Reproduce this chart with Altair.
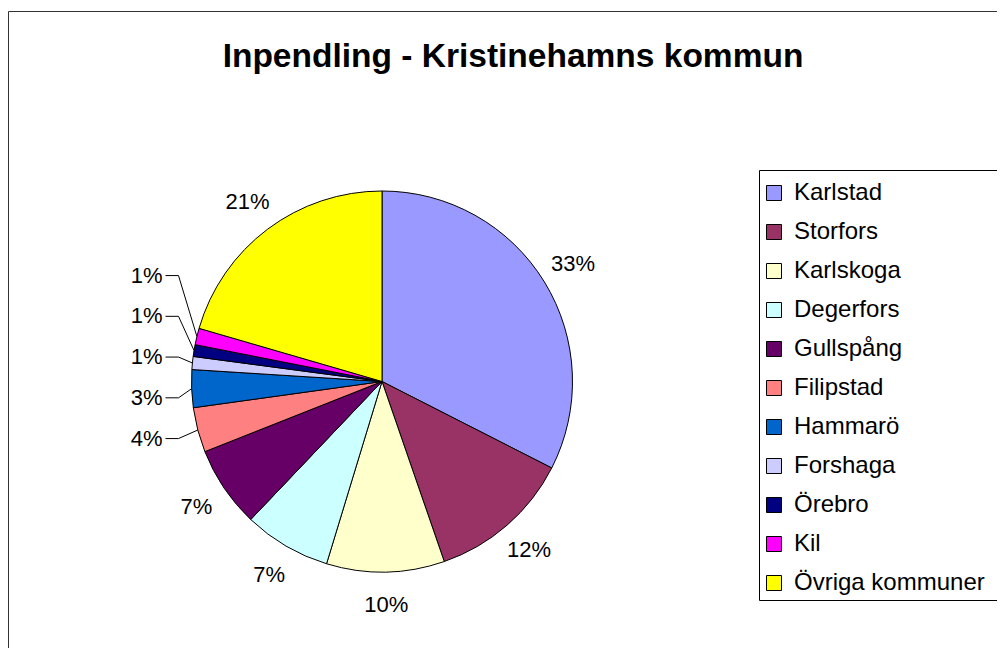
import altair as alt
import pandas as pd
import numpy as np

# ---- data ----
categories = ["Karlstad", "Storfors", "Karlskoga", "Degerfors", "Gullspång",
              "Filipstad", "Hammarö", "Forshaga", "Örebro", "Kil", "Övriga kommuner"]
shares = [32.5, 12.2, 10.0, 7.4, 6.9, 3.8, 3.2, 1.1, 1.0, 1.4, 20.5]
colors = ["#9999FF", "#993366", "#FFFFCC", "#CCFFFF", "#660066", "#FF8080",
          "#0066CC", "#CCCCFF", "#000080", "#FF00FF", "#FFFF00"]
title_text = "Inpendling - Kristinehamns kommun"

# ---- layout (svg pixel coordinates) ----
W, H = 989, 640
OFF = 8
CX, CY, R = 382 - OFF, 381.5 - OFF, 190.5
RL = 224          # radius of the label centres
SMALL = 5.0       # slices below this share get a leader line
GAP = 40.75       # vertical spacing of the leader labels
FONT = "Liberation Sans"

df = pd.DataFrame({"category": categories, "value": shares,
                   "order": list(range(len(categories)))})
total = df["value"].sum()
pct = df["value"] / total * 100
df["label"] = [f"{int(np.floor(p + 0.5 + 1e-9))}%" for p in pct]
end = df["value"].cumsum() / total * 2 * np.pi
start = end - df["value"] / total * 2 * np.pi
mid = (start + end) / 2
df["mid"] = mid
df["lx"] = CX + RL * np.sin(mid)
df["ly"] = CY - RL * np.cos(mid)
df["ax"] = CX + R * np.sin(mid)
df["ay"] = CY - R * np.cos(mid)
df["small"] = pct < SMALL

big = df[~df["small"]].copy()
small = df[df["small"]].sort_values("mid").reset_index(drop=True)
base_y = small.loc[0, "ly"]
small["ly"] = [base_y - k * GAP for k in range(len(small))]
small["lx"] = CX - R - 29

rows = []
for _, r in small.iterrows():
    rows.append({"category": r["category"], "pt": 0, "x": CX - R - 26, "y": r["ly"]})
    rows.append({"category": r["category"], "pt": 1, "x": CX - R - 13, "y": r["ly"]})
    rows.append({"category": r["category"], "pt": 2, "x": r["ax"], "y": r["ay"]})
leaders = pd.DataFrame(rows)

xs = alt.Scale(domain=[0, W], nice=False, zero=False)
ys = alt.Scale(domain=[0, H], nice=False, zero=False, reverse=True)

frame = alt.Chart(pd.DataFrame({"f": [0]})).mark_rect(
    fill="white", fillOpacity=0, stroke="#333333", strokeWidth=1
).encode(x=alt.value(0.5), y=alt.value(3.5), x2=alt.value(W + 60), y2=alt.value(H + 60))

legend_box = alt.Chart(pd.DataFrame({"f": [0]})).mark_rect(
    fill="white", stroke="black", strokeWidth=1
).encode(x=alt.value(751.5), y=alt.value(162.5), x2=alt.value(W + 60), y2=alt.value(592.5))

pie = alt.Chart(df).mark_arc(radius=R, stroke="black", strokeWidth=1).encode(
    theta=alt.Theta("value:Q", stack=True),
    order=alt.Order("order:Q"),
    color=alt.Color(
        "category:N",
        sort=categories,
        scale=alt.Scale(domain=categories, range=colors),
        legend=alt.Legend(
            title=None, orient="none", legendX=743, legendY=162,
            symbolType="square", symbolSize=225, symbolStrokeColor="black",
            symbolStrokeWidth=1, symbolOpacity=1,
            labelFont=FONT, labelFontSize=24, labelColor="black",
            labelLimit=400, labelOffset=8, rowPadding=15, padding=11,
        ),
    ),
    x=alt.value(CX),
    y=alt.value(CY),
)

lines = alt.Chart(leaders).mark_line(color="black", strokeWidth=1).encode(
    x=alt.X("x:Q", scale=xs, axis=None),
    y=alt.Y("y:Q", scale=ys, axis=None),
    detail="category:N",
    order="pt:Q",
)

big_labels = alt.Chart(big).mark_text(
    font=FONT, fontSize=22, color="black", align="center", baseline="middle"
).encode(
    x=alt.X("lx:Q", scale=xs, axis=None),
    y=alt.Y("ly:Q", scale=ys, axis=None),
    text="label:N",
)

small_labels = alt.Chart(small).mark_text(
    font=FONT, fontSize=22, color="black", align="right", baseline="middle"
).encode(
    x=alt.X("lx:Q", scale=xs, axis=None),
    y=alt.Y("ly:Q", scale=ys, axis=None),
    text="label:N",
)

title = alt.Chart(pd.DataFrame({"t": [title_text]})).mark_text(
    font=FONT, fontSize=33.5, fontWeight="bold", color="black",
    align="center", baseline="alphabetic"
).encode(x=alt.value(505), y=alt.value(59), text="t:N")

chart = alt.layer(frame, legend_box, pie, lines, big_labels, small_labels, title).properties(
    width=W, height=H, padding=0,
    autosize=alt.AutoSizeParams(type="none"),
    background="white",
).configure_view(strokeWidth=0)

chart.save("out.html", embed_options={"renderer": "svg", "actions": False})
